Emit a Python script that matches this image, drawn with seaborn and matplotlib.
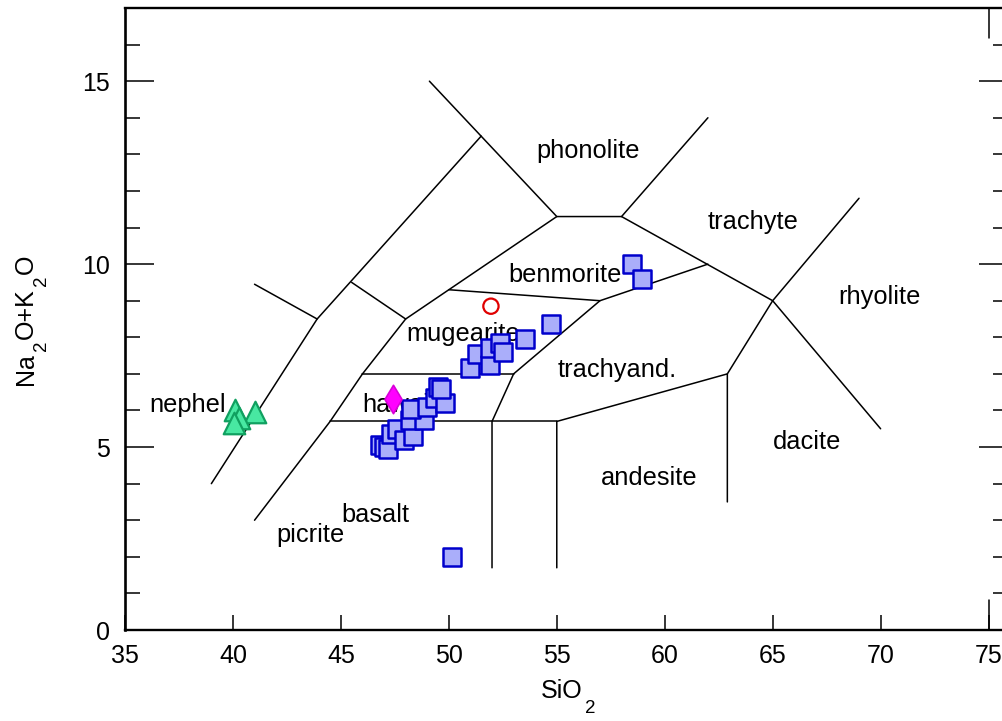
import matplotlib
matplotlib.use('Agg')
import matplotlib.pyplot as plt
import seaborn as sns
import pandas as pd
from matplotlib.ticker import MultipleLocator
from matplotlib.transforms import IdentityTransform

sns.set_theme(style='ticks')
plt.rcParams['font.family'] = ['Liberation Sans', 'DejaVu Sans']
plt.rcParams['text.color'] = 'black'
plt.rcParams['axes.labelcolor'] = 'black'
plt.rcParams['xtick.color'] = 'black'
plt.rcParams['ytick.color'] = 'black'

# ---------------- data ----------------
square_sio2 = [46.8, 47.0, 47.2, 47.3, 47.6, 47.9, 48.35, 48.2, 48.85, 48.25, 49.0,
               49.35, 49.8, 49.5, 49.65,
               51.0, 51.3, 51.9, 51.9, 52.35, 52.5, 53.55, 54.75,
               50.15, 58.5, 58.95]
square_alk = [5.05, 5.0, 4.95, 5.35, 5.5, 5.2, 5.3, 5.75, 5.75, 6.05, 6.1,
              6.35, 6.2, 6.65, 6.6,
              7.15, 7.55, 7.25, 7.7, 7.85, 7.6, 7.95, 8.35,
              2.0, 10.0, 9.6]
triangle_sio2 = [40.1, 41.0, 40.3, 40.05]
triangle_alk = [6.0, 5.97, 5.8, 5.65]
diamond_sio2 = [47.4]
diamond_alk = [6.3]
circle_sio2 = [51.95]
circle_alk = [8.85]

# TAS field boundaries (SiO2, Na2O+K2O)
boundary_foid = [(39.0, 4.0), (43.9, 8.5), (51.5, 13.5)]
boundary_short1 = [(41.0, 9.45), (43.9, 8.5)]
boundary_short2 = [(45.5, 9.5), (48.0, 8.5)]
boundary_phonolite = [(49.1, 15.0), (55.0, 11.3), (58.0, 11.3), (62.0, 14.0)]
boundary_basalt = [(41.0, 3.0), (44.5, 5.7), (46.0, 7.0), (48.0, 8.5), (55.0, 11.3)]
boundary_hawaiite_low = [(44.5, 5.7), (55.0, 5.7)]
boundary_hawaiite_top = [(46.0, 7.0), (53.0, 7.0)]
boundary_trachyand = [(52.0, 1.7), (52.0, 5.7), (53.0, 7.0), (57.0, 9.0), (62.0, 10.0)]
boundary_benmorite = [(50.0, 9.3), (57.0, 9.0)]
boundary_trachyte = [(58.0, 11.3), (65.0, 9.0), (70.0, 5.5)]
boundary_andesite = [(55.0, 1.7), (55.0, 5.7), (62.9, 7.0), (62.9, 3.5)]
boundary_rhyolite = [(62.9, 7.0), (65.0, 9.0), (69.0, 11.8)]
boundaries = [boundary_foid, boundary_short1, boundary_short2, boundary_phonolite,
              boundary_basalt, boundary_hawaiite_low, boundary_hawaiite_top,
              boundary_trachyand, boundary_benmorite, boundary_trachyte,
              boundary_andesite, boundary_rhyolite]

field_names = ['phonolite', 'trachyte', 'benmorite', 'rhyolite', 'mugearite',
               'trachyand.', 'nephel', 'hawaiite', 'dacite', 'andesite',
               'basalt', 'picrite']
field_x = [56.45, 64.1, 55.4, 69.95, 50.65, 57.8, 37.9, 48.15, 66.6, 59.3, 46.6, 43.6]
field_y = [13.1, 11.15, 9.7, 9.1, 8.1, 7.1, 6.15, 6.15, 5.15, 4.15, 3.15, 2.6]

x_ticks = [35, 40, 45, 50, 55, 60, 65, 70, 75]
y_ticks = [0, 5, 10, 15]

# axis titles as (text, is_subscript) pieces
xlabel_pieces = [('SiO', False), ('2', True)]
ylabel_pieces = [('Na', False), ('2', True), ('O+K', False), ('2', True), ('O', False)]

# ---------------- figure ----------------
fig = plt.figure(figsize=(10.02, 7.21), dpi=100)
ax = fig.add_axes([125 / 1002, 1 - 630 / 721, (1008 - 125) / 1002, (630 - 8) / 721])
ax.set_facecolor('white')

for line in boundaries:
    xs = [p[0] for p in line]
    ys = [p[1] for p in line]
    ax.plot(xs, ys, color='black', lw=1.1, zorder=1, solid_joinstyle='miter')

for name, x, y in zip(field_names, field_x, field_y):
    ax.text(x, y, name, fontsize=18.3, ha='center', va='center', zorder=2, color='black')

sq = pd.DataFrame({'SiO2': square_sio2, 'alk': square_alk})
tr = pd.DataFrame({'SiO2': triangle_sio2, 'alk': triangle_alk})
di = pd.DataFrame({'SiO2': diamond_sio2, 'alk': diamond_alk})
ci = pd.DataFrame({'SiO2': circle_sio2, 'alk': circle_alk})

sns.scatterplot(data=sq, x='SiO2', y='alk', marker='s', s=13.3 ** 2, color='#aaaefa',
                edgecolor='#0000cc', linewidth=1.8, ax=ax, zorder=3, legend=False)
sns.scatterplot(data=tr, x='SiO2', y='alk', marker='^', s=15.5 ** 2, color='#48e8a2',
                edgecolor='#10a060', linewidth=1.6, ax=ax, zorder=3, legend=False)
sns.scatterplot(data=di, x='SiO2', y='alk', marker='d', s=14.5 ** 2, color='#ff00ff',
                edgecolor='#d800d8', linewidth=1.2, ax=ax, zorder=3, legend=False)
sns.scatterplot(data=ci, x='SiO2', y='alk', marker='o', s=11 ** 2, color='none',
                edgecolor='#e00000', linewidth=1.6, ax=ax, zorder=3, legend=False)

ax.set_xlim(35, 75.9)
ax.set_ylim(0, 17)
ax.set_xticks(x_ticks)
ax.set_yticks(y_ticks)
ax.yaxis.set_minor_locator(MultipleLocator(1))
ax.tick_params(axis='x', which='major', direction='in', length=11, width=1.1,
               labelsize=18, pad=10, bottom=True, top=False, colors='black')
ax.tick_params(axis='y', which='major', direction='in', length=21, width=1.1,
               labelsize=18, pad=11, left=True, right=True, colors='black')
ax.tick_params(axis='y', which='minor', direction='in', length=11, width=1.1,
               left=True, right=True, colors='black')
for sp in ax.spines.values():
    sp.set_linewidth(1.7)
    sp.set_color('black')
ax.spines['left'].set_linewidth(1.9)

# longer marks at SiO2 = 75 on top and bottom frame
ax.plot([75, 75], [0, 0.048], transform=ax.get_xaxis_transform(), color='black',
        lw=1.1, clip_on=False)
ax.plot([75, 75], [1, 1 - 0.048], transform=ax.get_xaxis_transform(), color='black',
        lw=1.1, clip_on=False)
ax.set_xlabel('')
ax.set_ylabel('')

# ---------- axis titles with low-hanging subscripts ----------
renderer = fig.canvas.get_renderer()
H = 721


def piece_width(s, size):
    t = fig.text(0, 0, s, fontsize=size)
    w = t.get_window_extent(renderer).width
    t.remove()
    return w


def draw_label(pieces, center, baseline, main_size, sub_size, drop, vertical):
    widths = [piece_width(s, sub_size if sub else main_size) for s, sub in pieces]
    gaps = []
    for i in range(len(pieces) - 1):
        gaps.append(2.5 if pieces[i + 1][1] else 1.0)
    total = sum(widths) + sum(gaps)
    pos = center - total / 2
    for i, (s, sub) in enumerate(pieces):
        size = sub_size if sub else main_size
        if vertical:
            fig.text(baseline + (drop if sub else 0), pos, s, fontsize=size,
                     rotation=90, rotation_mode='anchor', ha='left', va='baseline',
                     transform=IdentityTransform(), color='black')
        else:
            fig.text(pos, baseline - (drop if sub else 0), s, fontsize=size,
                     ha='left', va='baseline', transform=IdentityTransform(),
                     color='black')
        pos += widths[i] + (gaps[i] if i < len(gaps) else 0)


draw_label(xlabel_pieces, center=568.5, baseline=H - 698, main_size=18,
           sub_size=13.5, drop=15, vertical=False)
draw_label(ylabel_pieces, center=H - 320, baseline=33, main_size=18,
           sub_size=13.5, drop=13, vertical=True)

fig.savefig('out.png', dpi=100, facecolor='white')
